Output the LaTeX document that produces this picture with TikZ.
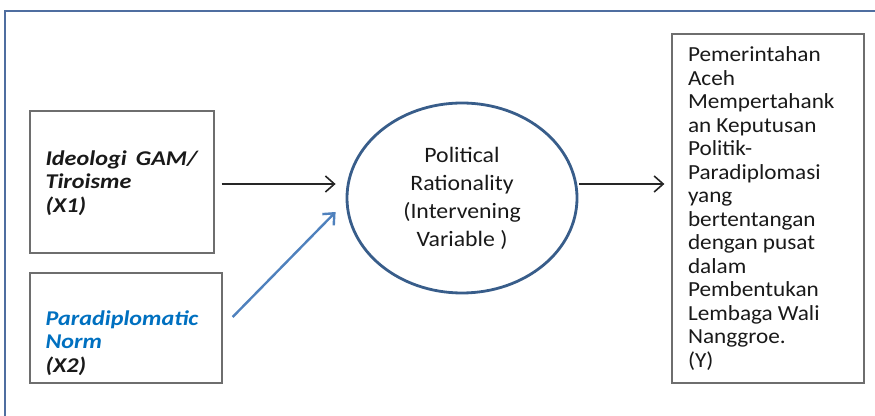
\documentclass[tikz,border=0pt]{standalone}
\usepackage{fontspec}
\setmainfont{Carlito}
\newfontfamily\widefont[FakeStretch=1.08]{Carlito}
\newfontfamily\bifont[FakeStretch=1.15]{Carlito}
\newcommand\mysp{\spaceskip=0.24em\relax}
\usetikzlibrary{arrows.meta,shapes.geometric}
\definecolor{framecol}{RGB}{79,110,160}
\definecolor{circcol}{RGB}{56,93,138}
\definecolor{arrblue}{RGB}{79,129,189}
\definecolor{textblue}{RGB}{0,112,192}
\definecolor{boxgrey}{RGB}{110,110,110}
\begin{document}
\begin{tikzpicture}[x=1pt,y=1pt,
  boxline/.style={draw=boxgrey, line width=1.3pt},
  bitext/.style={align=left, inner sep=0pt, text=black!90,
    font=\bifont\fontsize{21}{23.5}\selectfont\bfseries\itshape},
  arr/.style={draw=black!85, line width=1.6pt, -{Straight Barb[length=9pt,width=16pt,line width=1.6pt]}},
  bluearr/.style={draw=arrblue, line width=2.4pt, -{Straight Barb[length=9pt,width=16pt,line width=2.4pt]}}
]
\useasboundingbox (0,0) rectangle (875,415);
% outer frame (only top and left visible)
\coordinate (fbl) at (5,-5);
\coordinate (ftl) at (5,404);
\coordinate (ftr) at (880,404);
\draw[framecol, line width=2pt] (fbl) -- (ftl) -- (ftr);

% X1 box
\node[boxline, minimum width=184pt, minimum height=142pt] (x1) at (122,233) {};
\node[bitext, text width=152pt, anchor=north west] (x1t) at ([shift={(16pt,-40pt)}]x1.north west)
  {Ideologi\hfill GAM/\\Tiroisme\\(X1)};
% X2 box
\node[boxline, minimum width=192pt, minimum height=110pt] (x2) at (126,87) {};
\node[bitext, anchor=north west] (x2t) at ([shift={(16pt,-38pt)}]x2.north west)
  {\textcolor{textblue}{Paradiplomatic}\\\textcolor{textblue}{Norm}\\(X2)};
% circle
\node[ellipse, draw=circcol, line width=2.8pt, minimum width=230pt, minimum height=190pt,
  align=center, font=\widefont\fontsize{22}{28}\selectfont, text=black!90] (circ) at (462,217)
  {Political\\Rationality\\(Intervening\\Variable )};
% Y box
\node[boxline, text width=160pt, inner xsep=16pt, minimum height=349pt,
  align=left, font=\widefont\fontsize{21.5}{23.5}\selectfont, text=black!90] (y) at (768,206.5)
  {\mysp Pemerintahan\\Aceh\\Mempertahank\\an Keputusan\\Politik-\\Paradiplomasi\\yang\\bertentangan\\dengan pusat\\dalam\\Pembentukan\\Lembaga Wali\\Nanggroe.\\(Y)};

% connectors
\draw[arr, shorten <=7pt, shorten >=10pt] ([yshift=-2pt]x1.east) -- ([yshift=-2pt]x1.east -| circ.west);
\draw[bluearr] ([shift={(10pt,11pt)}]x2.east) -- ([shift={(-10pt,-14pt)}]circ.west);
\draw[arr, shorten <=1pt, shorten >=7pt] ([yshift=14pt]circ.east) -- ([yshift=14pt]circ.east -| y.west);
\end{tikzpicture}
\end{document}
